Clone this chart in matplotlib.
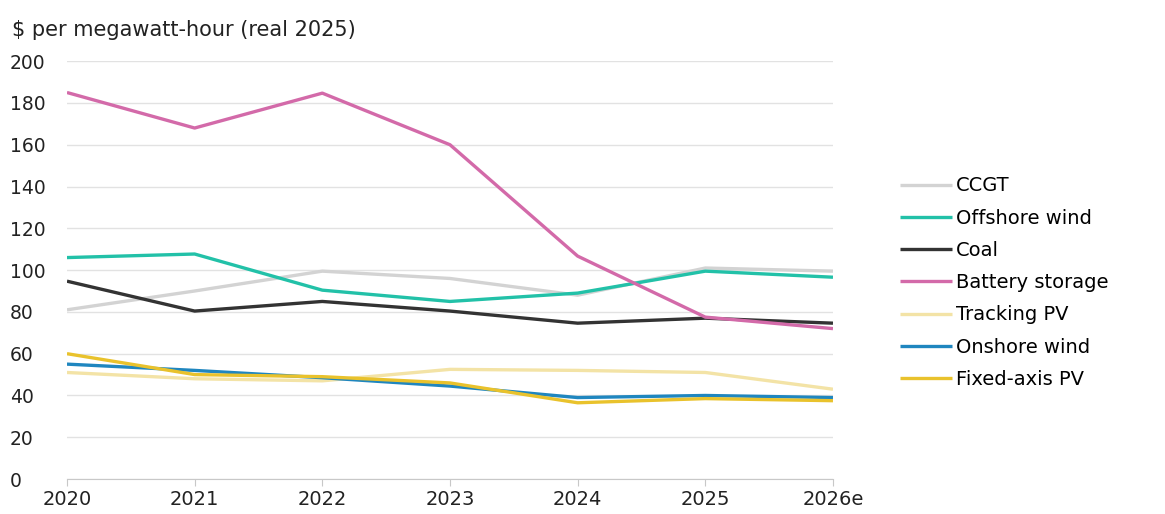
import matplotlib
matplotlib.use("Agg")
import matplotlib.pyplot as plt

YEARS = ["2020", "2021", "2022", "2023", "2024", "2025", "2026e"]

CCGT = [81, 90, 99.5, 96, 88, 101, 99.5]
OFFSHORE = [106, 107.7, 90.4, 85, 89, 99.5, 96.6]
COAL = [94.7, 80.4, 85, 80.4, 74.6, 77, 74.6]
BATTERY = [185, 168, 184.7, 160, 106.7, 77.5, 72]
TRACKING = [51, 48, 47, 52.5, 52, 51, 43]
ONSHORE = [55, 52, 48.5, 44.5, 39, 40, 39]
FIXED = [60, 50, 49, 46, 36.5, 38.5, 37.5]

SERIES = [
    ("CCGT", CCGT, "#d3d3d3"),
    ("Offshore wind", OFFSHORE, "#22c1a8"),
    ("Coal", COAL, "#333333"),
    ("Battery storage", BATTERY, "#d36aa9"),
    ("Tracking PV", TRACKING, "#f3e3a6"),
    ("Onshore wind", ONSHORE, "#1f86bf"),
    ("Fixed-axis PV", FIXED, "#e9c22c"),
]

plt.rcParams["font.family"] = ["DejaVu Sans"]

fig = plt.figure(figsize=(11.65, 5.14), dpi=100)
ax = fig.add_axes([0.0575, 0.068, 0.6575, 0.813])

x = range(len(YEARS))
for name, vals, col in SERIES:
    ax.plot(x, vals, color=col, lw=2.4, label=name, solid_capstyle="butt")

ax.set_xlim(0, len(YEARS) - 1)
ax.set_ylim(0, 200)
ax.set_yticks(range(0, 201, 20))
ax.set_xticks(list(x))
ax.set_xticklabels(YEARS)
ax.grid(axis="y", color="#e2e2e2", lw=1)
ax.set_axisbelow(True)
for s in ["top", "right", "left"]:
    ax.spines[s].set_visible(False)
ax.spines["bottom"].set_color("#c8c8c8")
ax.tick_params(axis="y", length=0, labelsize=13.5, pad=41, colors="#222222")
ax.tick_params(axis="x", length=5, color="#c8c8c8", labelsize=14, pad=3, colors="#222222")
for lbl in ax.get_yticklabels():
    lbl.set_horizontalalignment("left")

fig.text(0.010, 0.942, "$ per megawatt-hour (real 2025)", fontsize=15, color="#222222", va="center")

leg = ax.legend(loc="center left", bbox_to_anchor=(1.087, 0.47), frameon=False,
                fontsize=14, handlelength=2.7, handletextpad=0.2, labelspacing=0.68,
                borderpad=0, borderaxespad=0)

fig.savefig("out.png")
